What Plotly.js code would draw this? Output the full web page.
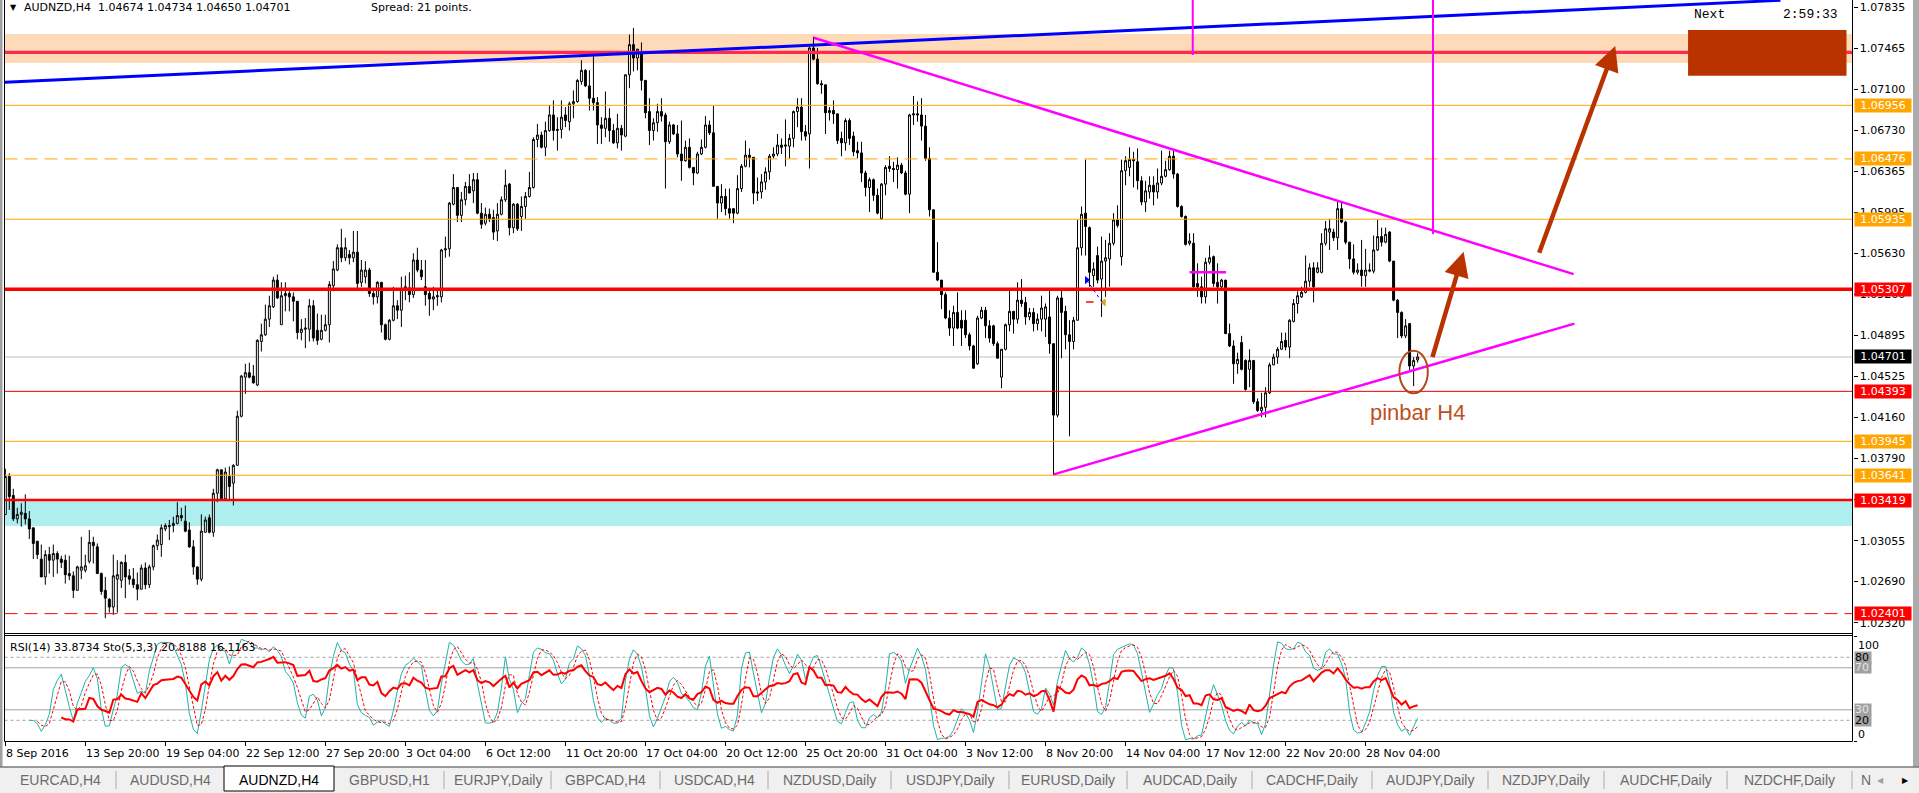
<!DOCTYPE html>
<html><head><meta charset="utf-8">
<script src="https://cdn.plot.ly/plotly-3.0.1.min.js"></script>
<style>html,body{margin:0;padding:0;background:#fff;overflow:hidden}#chart{width:1919px;height:793px}</style>
</head><body><div id="chart"></div>
<script>
// ---------------- DATA ----------------
const symbolName = "AUDNZD,H4";
const spreadPoints = 21;
const countdownText = "2:59:33";
const indicatorReadout = [33.8734, 20.8188, 16.1163];

const open = [
1.0329,1.0363,1.0346,1.0325,1.0329,1.0330,1.0325,1.0317,1.0305,1.0289,
1.0273,1.0293,1.0288,1.0294,1.0289,1.0288,1.0276,1.0274,1.0261,1.0279,
1.0279,1.0287,1.0304,1.0300,1.0276,1.0261,1.0253,1.0246,1.0271,1.0270,
1.0286,1.0274,1.0271,1.0266,1.0262,1.0281,1.0266,1.0282,1.0301,1.0302,
1.0316,1.0318,1.0319,1.0321,1.0328,1.0323,1.0315,1.0300,1.0282,1.0271,
1.0313,1.0326,1.0313,1.0348,1.0369,1.0343,1.0363,1.0357,1.0373,1.0417,
1.0452,1.0456,1.0453,1.0445,1.0484,1.0490,1.0504,1.0515,1.0539,1.0499,
1.0525,1.0527,1.0524,1.0520,1.0492,1.0495,1.0495,1.0516,1.0494,1.0486,
1.0494,1.0499,1.0534,1.0548,1.0568,1.0559,1.0562,1.0559,1.0564,1.0537,
1.0542,1.0548,1.0527,1.0524,1.0537,1.0499,1.0486,1.0503,1.0516,1.0512,
1.0531,1.0532,1.0526,1.0557,1.0548,1.0533,1.0527,1.0522,1.0524,1.0524,
1.0566,1.0567,1.0607,1.0622,1.0597,1.0611,1.0623,1.0619,1.0629,1.0599,
1.0590,1.0598,1.0595,1.0583,1.0598,1.0611,1.0625,1.0586,1.0607,1.0596,
1.0605,1.0614,1.0622,1.0665,1.0669,1.0658,1.0673,1.0687,1.0673,1.0674,
1.0687,1.0681,1.0697,1.0699,1.0717,1.0727,1.0713,1.0702,1.0698,1.0678,
1.0675,1.0684,1.0673,1.0662,1.0675,1.0668,1.0723,1.0750,1.0738,1.0742,
1.0718,1.0690,1.0673,1.0680,1.0690,1.0687,1.0663,1.0678,1.0670,1.0652,
1.0646,1.0658,1.0640,1.0635,1.0652,1.0658,1.0678,1.0671,1.0623,1.0608,
1.0614,1.0603,1.0603,1.0599,1.0621,1.0641,1.0651,1.0649,1.0618,1.0618,
1.0627,1.0636,1.0650,1.0652,1.0660,1.0659,1.0659,1.0666,1.0690,1.0694,
1.0672,1.0670,1.0747,1.0737,1.0715,1.0714,1.0689,1.0691,1.0688,1.0666,
1.0662,1.0682,1.0668,1.0655,1.0653,1.0635,1.0622,1.0629,1.0615,1.0594,
1.0625,1.0641,1.0639,1.0638,1.0642,1.0635,1.0616,1.0687,1.0688,1.0687,
1.0677,1.0648,1.0602,1.0546,1.0539,1.0526,1.0505,1.0496,1.0510,1.0503,
1.0503,1.0490,1.0480,1.0464,1.0505,1.0512,1.0498,1.0498,1.0482,1.0452,
1.0477,1.0499,1.0511,1.0504,1.0521,1.0519,1.0506,1.0510,1.0500,1.0504,
1.0504,1.0506,1.0482,1.0418,1.0523,1.0511,1.0490,1.0484,1.0503,1.0568,
1.0599,1.0586,1.0543,1.0561,1.0540,1.0556,1.0558,1.0572,1.0593,1.0560,
1.0637,1.0640,1.0647,1.0645,1.0628,1.0609,1.0618,1.0624,1.0618,1.0626,
1.0632,1.0638,1.0650,1.0634,1.0605,1.0596,1.0572,1.0572,1.0536,1.0533,
1.0524,1.0555,1.0560,1.0537,1.0533,1.0539,1.0491,1.0480,1.0464,1.0483,
1.0467,1.0459,1.0467,1.0430,1.0422,1.0425,1.0438,1.0463,1.0470,1.0477,
1.0485,1.0479,1.0502,1.0518,1.0524,1.0528,1.0538,1.0550,1.0546,1.0546,
1.0572,1.0582,1.0582,1.0577,1.0603,1.0591,1.0573,1.0558,1.0546,1.0548,
1.0543,1.0547,1.0547,1.0566,1.0578,1.0573,1.0582,1.0556,1.0521,1.0510,
1.0489,1.0500,1.0462,1.04674];

const high = [
1.0370,1.0366,1.0352,1.0335,1.0339,1.0347,1.0332,1.0317,1.0305,1.0302,
1.0297,1.0300,1.0302,1.0296,1.0292,1.0293,1.0292,1.0278,1.0283,1.0309,
1.0293,1.0315,1.0309,1.0303,1.0277,1.0273,1.0254,1.0293,1.0288,1.0287,
1.0293,1.0280,1.0281,1.0277,1.0284,1.0286,1.0284,1.0302,1.0311,1.0320,
1.0321,1.0324,1.0327,1.0340,1.0335,1.0337,1.0322,1.0306,1.0282,1.0329,
1.0327,1.0329,1.0352,1.0370,1.0369,1.0371,1.0372,1.0374,1.0422,1.0454,
1.0464,1.0465,1.0463,1.0486,1.0500,1.0517,1.0525,1.0542,1.0544,1.0537,
1.0537,1.0529,1.0528,1.0520,1.0504,1.0505,1.0522,1.0521,1.0509,1.0508,
1.0508,1.0538,1.0556,1.0571,1.0585,1.0577,1.0566,1.0583,1.0583,1.0557,
1.0556,1.0550,1.0530,1.0538,1.0537,1.0500,1.0504,1.0533,1.0521,1.0542,
1.0543,1.0546,1.0563,1.0568,1.0557,1.0557,1.0530,1.0533,1.0532,1.0567,
1.0578,1.0609,1.0634,1.0622,1.0618,1.0627,1.0634,1.0635,1.0635,1.0608,
1.0604,1.0603,1.0602,1.0608,1.0614,1.0638,1.0626,1.0608,1.0608,1.0614,
1.0618,1.0636,1.0667,1.0679,1.0672,1.0681,1.0696,1.0700,1.0685,1.0700,
1.0694,1.0699,1.0709,1.0719,1.0736,1.0728,1.0727,1.0742,1.0703,1.0685,
1.0708,1.0693,1.0679,1.0688,1.0678,1.0723,1.0759,1.0765,1.0746,1.0752,
1.0718,1.0702,1.0684,1.0697,1.0702,1.0689,1.0681,1.0679,1.0678,1.0682,
1.0664,1.0666,1.0640,1.0654,1.0665,1.0686,1.0682,1.0695,1.0623,1.0625,
1.0621,1.0621,1.0603,1.0633,1.0643,1.0664,1.0657,1.0649,1.0631,1.0634,
1.0640,1.0652,1.0658,1.0670,1.0666,1.0683,1.0670,1.0691,1.0702,1.0702,
1.0678,1.0748,1.0757,1.0747,1.0718,1.0714,1.0694,1.0700,1.0688,1.0672,
1.0684,1.0684,1.0672,1.0663,1.0663,1.0637,1.0631,1.0630,1.0621,1.0626,
1.0642,1.0650,1.0645,1.0649,1.0644,1.0637,1.0688,1.0704,1.0699,1.0702,
1.0687,1.0658,1.0602,1.0573,1.0539,1.0528,1.0512,1.0516,1.0528,1.0512,
1.0512,1.0492,1.0481,1.0507,1.0515,1.0515,1.0503,1.0499,1.0484,1.0477,
1.0500,1.0530,1.0511,1.0537,1.0540,1.0524,1.0514,1.0514,1.0509,1.0525,
1.0518,1.0530,1.0482,1.0525,1.0530,1.0516,1.0503,1.0506,1.0593,1.0605,
1.0647,1.0587,1.0555,1.0569,1.0578,1.0575,1.0581,1.0599,1.0606,1.0647,
1.0650,1.0658,1.0654,1.0657,1.0632,1.0628,1.0632,1.0632,1.0639,1.0655,
1.0646,1.0655,1.0656,1.0635,1.0606,1.0597,1.0581,1.0581,1.0554,1.0542,
1.0559,1.0570,1.0561,1.0554,1.0540,1.0539,1.0500,1.0485,1.0474,1.0489,
1.0468,1.0477,1.0467,1.0433,1.0438,1.0443,1.0465,1.0473,1.0479,1.0492,
1.0492,1.0504,1.0522,1.0529,1.0533,1.0561,1.0554,1.0555,1.0555,1.0581,
1.0592,1.0594,1.0585,1.0609,1.0609,1.0592,1.0573,1.0571,1.0554,1.0575,
1.0567,1.0554,1.0579,1.0593,1.0586,1.0586,1.0583,1.0556,1.0522,1.0511,
1.0504,1.0500,1.0470,1.04734];

const low = [
1.0329,1.0333,1.0323,1.0321,1.0318,1.0320,1.0307,1.0289,1.0289,1.0273,
1.0266,1.0276,1.0273,1.0276,1.0281,1.0267,1.0270,1.0254,1.0261,1.0271,
1.0277,1.0285,1.0285,1.0276,1.0257,1.0236,1.0241,1.0239,1.0241,1.0263,
1.0254,1.0266,1.0263,1.0252,1.0262,1.0262,1.0263,1.0279,1.0297,1.0291,
1.0314,1.0306,1.0313,1.0320,1.0323,1.0313,1.0299,1.0275,1.0266,1.0269,
1.0313,1.0312,1.0309,1.0340,1.0342,1.0342,1.0341,1.0337,1.0373,1.0416,
1.0437,1.0451,1.0446,1.0444,1.0475,1.0489,1.0497,1.0514,1.0522,1.0499,
1.0511,1.0511,1.0502,1.0486,1.0485,1.0478,1.0484,1.0484,1.0481,1.0485,
1.0493,1.0483,1.0529,1.0547,1.0555,1.0556,1.0553,1.0555,1.0531,1.0533,
1.0536,1.0524,1.0517,1.0518,1.0492,1.0485,1.0485,1.0502,1.0504,1.0497,
1.0521,1.0519,1.0523,1.0546,1.0539,1.0516,1.0507,1.0512,1.0516,1.0519,
1.0559,1.0560,1.0606,1.0591,1.0591,1.0606,1.0617,1.0608,1.0598,1.0585,
1.0588,1.0591,1.0575,1.0574,1.0597,1.0609,1.0579,1.0581,1.0583,1.0583,
1.0594,1.0613,1.0621,1.0658,1.0657,1.0650,1.0672,1.0664,1.0655,1.0666,
1.0676,1.0673,1.0684,1.0698,1.0714,1.0712,1.0691,1.0691,1.0661,1.0661,
1.0667,1.0663,1.0661,1.0657,1.0655,1.0667,1.0711,1.0726,1.0727,1.0709,
1.0684,1.0660,1.0664,1.0672,1.0681,1.0621,1.0661,1.0669,1.0649,1.0628,
1.0645,1.0639,1.0624,1.0634,1.0651,1.0657,1.0669,1.0623,1.0594,1.0600,
1.0597,1.0594,1.0590,1.0598,1.0618,1.0640,1.0640,1.0607,1.0610,1.0612,
1.0620,1.0629,1.0648,1.0650,1.0652,1.0641,1.0648,1.0658,1.0676,1.0664,
1.0664,1.0639,1.0736,1.0714,1.0706,1.0670,1.0682,1.0679,1.0661,1.0650,
1.0655,1.0660,1.0650,1.0648,1.0627,1.0614,1.0600,1.0610,1.0598,1.0593,
1.0615,1.0636,1.0627,1.0621,1.0634,1.0615,1.0599,1.0678,1.0681,1.0664,
1.0646,1.0596,1.0546,1.0538,1.0513,1.0504,1.0489,1.0480,1.0495,1.0480,
1.0487,1.0476,1.0460,1.0463,1.0504,1.0487,1.0483,1.0480,1.0469,1.0442,
1.0476,1.0493,1.0491,1.0500,1.0515,1.0499,1.0503,1.0493,1.0494,1.0493,
1.0488,1.0473,1.0364,1.0416,1.0469,1.0477,1.0399,1.0477,1.0503,1.0561,
1.0561,1.0533,1.0533,1.0536,1.0506,1.0524,1.0533,1.0570,1.0586,1.0552,
1.0624,1.0632,1.0622,1.0620,1.0606,1.0600,1.0612,1.0606,1.0612,1.0624,
1.0631,1.0637,1.0630,1.0604,1.0595,1.0570,1.0570,1.0532,1.0524,1.0518,
1.0518,1.0553,1.0533,1.0518,1.0531,1.0491,1.0479,1.0446,1.0455,1.0458,
1.0440,1.0443,1.0428,1.0421,1.0416,1.0416,1.0437,1.0463,1.0464,1.0477,
1.0476,1.0469,1.0501,1.0509,1.0523,1.0527,1.0533,1.0519,1.0545,1.0545,
1.0570,1.0566,1.0574,1.0566,1.0590,1.0571,1.0549,1.0544,1.0544,1.0533,
1.0533,1.0546,1.0545,1.0565,1.0569,1.0572,1.0555,1.0520,1.0487,1.0487,
1.0487,1.0458,1.0444,1.04650];

const close = [
1.0363,1.0345,1.0325,1.0329,1.0331,1.0325,1.0316,1.0303,1.0293,1.0273,
1.0293,1.0288,1.0294,1.0289,1.0286,1.0275,1.0274,1.0261,1.0282,1.0282,
1.0283,1.0304,1.0301,1.0276,1.0260,1.0254,1.0246,1.0274,1.0275,1.0286,
1.0273,1.0271,1.0266,1.0262,1.0281,1.0266,1.0282,1.0301,1.0306,1.0317,
1.0319,1.0319,1.0321,1.0328,1.0326,1.0314,1.0300,1.0282,1.0271,1.0314,
1.0324,1.0313,1.0348,1.0369,1.0343,1.0367,1.0354,1.0373,1.0417,1.0453,
1.0456,1.0452,1.0447,1.0485,1.0490,1.0504,1.0516,1.0539,1.0523,1.0525,
1.0527,1.0524,1.0520,1.0492,1.0495,1.0496,1.0516,1.0487,1.0485,1.0494,
1.0499,1.0535,1.0549,1.0568,1.0559,1.0568,1.0559,1.0564,1.0536,1.0548,
1.0548,1.0527,1.0524,1.0537,1.0499,1.0486,1.0503,1.0516,1.0512,1.0531,
1.0533,1.0526,1.0557,1.0548,1.0542,1.0526,1.0522,1.0524,1.0525,1.0566,
1.0567,1.0608,1.0622,1.0597,1.0611,1.0623,1.0617,1.0629,1.0599,1.0589,
1.0598,1.0594,1.0582,1.0598,1.0611,1.0624,1.0586,1.0607,1.0585,1.0605,
1.0614,1.0622,1.0665,1.0669,1.0658,1.0673,1.0687,1.0673,1.0674,1.0685,
1.0682,1.0697,1.0699,1.0718,1.0727,1.0713,1.0702,1.0698,1.0678,1.0675,
1.0684,1.0673,1.0662,1.0675,1.0669,1.0723,1.0750,1.0738,1.0746,1.0718,
1.0689,1.0673,1.0680,1.0690,1.0686,1.0663,1.0678,1.0670,1.0652,1.0646,
1.0658,1.0640,1.0635,1.0652,1.0658,1.0678,1.0671,1.0623,1.0608,1.0614,
1.0603,1.0599,1.0599,1.0621,1.0641,1.0651,1.0649,1.0617,1.0617,1.0627,
1.0636,1.0650,1.0652,1.0660,1.0658,1.0660,1.0666,1.0690,1.0694,1.0672,
1.0668,1.0747,1.0737,1.0715,1.0714,1.0689,1.0691,1.0688,1.0664,1.0662,
1.0682,1.0666,1.0654,1.0653,1.0635,1.0622,1.0629,1.0615,1.0599,1.0625,
1.0640,1.0639,1.0638,1.0642,1.0635,1.0616,1.0687,1.0688,1.0687,1.0677,
1.0648,1.0602,1.0546,1.0539,1.0526,1.0505,1.0496,1.0510,1.0496,1.0496,
1.0490,1.0480,1.0460,1.0505,1.0512,1.0498,1.0487,1.0482,1.0469,1.0477,
1.0499,1.0511,1.0504,1.0521,1.0518,1.0506,1.0510,1.0500,1.0504,1.0514,
1.0515,1.0482,1.0418,1.0523,1.0510,1.0490,1.0484,1.0503,1.0568,1.0598,
1.0587,1.0546,1.0549,1.0539,1.0556,1.0559,1.0572,1.0593,1.0588,1.0637,
1.0646,1.0647,1.0646,1.0628,1.0609,1.0619,1.0624,1.0618,1.0626,1.0632,
1.0638,1.0650,1.0634,1.0605,1.0596,1.0571,1.0574,1.0533,1.0533,1.0524,
1.0555,1.0559,1.0536,1.0533,1.0539,1.0491,1.0480,1.0464,1.0468,1.0459,
1.0441,1.0467,1.0430,1.0422,1.0425,1.0438,1.0463,1.0470,1.0477,1.0484,
1.0479,1.0503,1.0518,1.0525,1.0528,1.0538,1.0550,1.0533,1.0550,1.0572,
1.0585,1.0585,1.0577,1.0603,1.0591,1.0573,1.0558,1.0546,1.0548,1.0543,
1.0548,1.0548,1.0566,1.0578,1.0573,1.0580,1.0556,1.0521,1.0510,1.0489,
1.0498,1.0462,1.0467,1.04701];

const priceTicks = [1.07835,1.07465,1.07100,1.06730,1.06365,1.05995,1.05630,1.05260,1.04895,1.04525,1.04160,1.03790,1.03420,1.03055,1.02690,1.02320];
const levelPrices = [1.06956,1.06476,1.05935,1.05307,1.04701,1.04393,1.03945,1.03641,1.03419,1.02401];
const levelKinds  = ["orange","orangeDash","orange","redThick","bid","red","orange","orange","redMid","redDash"];
const resistancePrice = 1.0743;
const zonePrices = [[1.07335,1.07595],[1.03186,1.03419]];
const oscLevels = [80,70,30,20];
const oscAxisText = ["100","0"];

const dateTickIdx  = [0,20,40,60,80,100,120,140,160,180,200,220,240,260,280,300,320,340];
const dateTickText = ["8 Sep 2016","13 Sep 20:00","19 Sep 04:00","22 Sep 12:00","27 Sep 20:00","3 Oct 04:00","6 Oct 12:00","11 Oct 20:00","17 Oct 04:00","20 Oct 12:00","25 Oct 20:00","31 Oct 04:00","3 Nov 12:00","8 Nov 20:00","14 Nov 04:00","17 Nov 12:00","22 Nov 20:00","28 Nov 04:00"];

const tabNames = ["EURCAD,H4","AUDUSD,H4","AUDNZD,H4","GBPUSD,H1","EURJPY,Daily","GBPCAD,H4","USDCAD,H4","NZDUSD,Daily","USDJPY,Daily","EURUSD,Daily","AUDCAD,Daily","CADCHF,Daily","AUDJPY,Daily","NZDJPY,Daily","AUDCHF,Daily","NZDCHF,Daily"];
const activeTab = 2;

// drawn objects anchored in (bar index, price)
const trendLines = [
  {i0:-0.075, p0:1.07162, i1:443.7,  p1:1.07897, kind:"blue"},
  {i0:202.05, p0:1.07562, i1:392.0,  p1:1.05443, kind:"magenta"},
  {i0:262.05, p0:1.03649, i1:392.2,  p1:1.05000, kind:"magenta"},
  {i0:296.8,  p0:1.07900, i1:296.8,  p1:1.07407, kind:"magentaV"},
  {i0:356.85, p0:1.07900, i1:356.85, p1:1.05802, kind:"magentaV"},
  {i0:296.0,  p0:1.05461, i1:305.1,  p1:1.05461, kind:"magenta"}
];
const forecastArrows = [
  {i0:356.6,  p0:1.04686, i1:364.5, p1:1.05643},
  {i0:383.25, p0:1.05622, i1:402.4, p1:1.07488}
];
const targetBox = {i0:420.6, i1:460.2, p0:1.07221, p1:1.07631};
const pinbarMark = {i0:348.45, i1:355.55, p0:1.04375, p1:1.04757, label:"pinbar H4", li:352.9, lp:1.04205};
const tradeMarks = {buy:[270.3,1.0539], exit:[274.6,1.0519], sl:[270.1,272.0,1.05194]};

// ---------------- CHECK ----------------
if (!(open.length===high.length && high.length===low.length && low.length===close.length)) {
  throw new Error("length mismatch "+open.length+" "+high.length+" "+low.length+" "+close.length);
}

// ---------------- INDICATORS (from the OHLC above) ----------------
function rsi(c,n){
  const out=c.map(()=>null); let g=0,l=0;
  for(let i=1;i<=n;i++){const d=c[i]-c[i-1]; if(d>0) g+=d; else l-=d;}
  g/=n; l/=n; out[n]=l===0?100:100-100/(1+g/l);
  for(let i=n+1;i<c.length;i++){const d=c[i]-c[i-1];
    g=(g*(n-1)+Math.max(d,0))/n; l=(l*(n-1)+Math.max(-d,0))/n;
    out[i]=l===0?100:100-100/(1+g/l);}
  return out;
}
function stoch(h,l,c,kp,slow,dp){
  const N=c.length, hh=[], ll=[], K=c.map(()=>null), D=c.map(()=>null);
  for(let i=0;i<N;i++){ if(i>=kp-1){let a=-1e9,b=1e9; for(let j=i-kp+1;j<=i;j++){a=Math.max(a,h[j]);b=Math.min(b,l[j]);} hh[i]=a; ll[i]=b;} }
  for(let i=kp-1+slow-1;i<N;i++){let num=0,den=0; for(let j=i-slow+1;j<=i;j++){num+=c[j]-ll[j];den+=hh[j]-ll[j];} K[i]=den===0?100:100*num/den;}
  for(let i=0;i<N;i++){ if(i>=dp-1 && K[i-dp+1]!==null){let s=0; for(let j=i-dp+1;j<=i;j++) s+=K[j]; D[i]=s/dp;} }
  return [K,D];
}
const bars = close.map((_,i)=>i);
const rsiVals = rsi(close,14);
const [stK, stD] = stoch(high,low,close,5,3,3);

// ---------------- LAYOUT HELPERS ----------------
const W=1919, H=793;
const PX = x => x/W, PY = y => 1 - y/H;
const F = "DejaVu Sans";
const shapes=[], annotations=[];

const levelStyle = {
  orange:{c:"#FFA500",w:1,d:"solid",box:"#FFA500"},
  orangeDash:{c:"#FFA500",w:1,d:"13px,7px",box:"#FFA500"},
  redThick:{c:"#FF0000",w:3.5,d:"solid",box:"#FF0000"},
  bid:{c:"#C0C0C0",w:1,d:"solid",box:"#000000"},
  red:{c:"#EE0000",w:1,d:"solid",box:"#FF0000"},
  redMid:{c:"#FF0000",w:2.5,d:"solid",box:"#FF0000"},
  redDash:{c:"#FF0000",w:1,d:"13px,7px",box:"#FF0000"}
};

// zones (background)
zonePrices.forEach((z,k)=>shapes.push({type:"rect",xref:"x domain",yref:"y",x0:0,x1:1,y0:z[0],y1:z[1],
  fillcolor:k===0?"#FFDAB9":"#AFEEEE",line:{width:0},layer:"below"}));

// horizontal levels
shapes.push({type:"line",xref:"x domain",yref:"y",x0:0,x1:1,y0:resistancePrice,y1:resistancePrice,line:{color:"#FF2A4D",width:3.2},layer:"above"});
levelPrices.forEach((p,k)=>{const s=levelStyle[levelKinds[k]];
  shapes.push({type:"line",xref:"x domain",yref:"y",x0:0,x1:1,y0:p,y1:p,line:{color:s.c,width:s.w,dash:s.d},layer:s===levelStyle.bid?"below":"above"});
  annotations.push({xref:"paper",yref:"y",x:PX(1854),y:p,xanchor:"left",yanchor:"middle",text:p.toFixed(5),showarrow:false,
    bgcolor:s.box,font:{family:F,size:11,color:"#ffffff"},width:56,height:13,borderpad:0,align:"center"});
});

// trend lines
trendLines.forEach(t=>{
  const col = t.kind==="blue"?"#0000FF":"#FF00FF";
  const w = t.kind==="blue"?3:(t.kind==="magentaV"?2:2.5);
  shapes.push({type:"line",xref:"x",yref:"y",x0:t.i0,y0:t.p0,x1:t.i1,y1:t.p1,line:{color:col,width:w},layer:"above"});
});

// target box
shapes.push({type:"rect",xref:"x",yref:"y",x0:targetBox.i0,x1:targetBox.i1,y0:targetBox.p0,y1:targetBox.p1,fillcolor:"#B83300",line:{width:0},layer:"above"});
// pinbar ellipse
shapes.push({type:"circle",xref:"x",yref:"y",x0:pinbarMark.i0,x1:pinbarMark.i1,y0:pinbarMark.p0,y1:pinbarMark.p1,line:{color:"#B5471C",width:2},layer:"above"});
annotations.push({xref:"x",yref:"y",x:pinbarMark.li,y:pinbarMark.lp,text:pinbarMark.label,showarrow:false,xanchor:"center",yanchor:"middle",
  font:{family:"Liberation Sans",size:22,color:"#C0501E"}});
// trade marks
shapes.push({type:"line",xref:"x",yref:"y",x0:tradeMarks.buy[0],y0:tradeMarks.buy[1],x1:tradeMarks.exit[0]-0.4,y1:tradeMarks.exit[1],line:{color:"#0000FF",width:1,dash:"dot"},layer:"above"});
shapes.push({type:"line",xref:"x",yref:"y",x0:tradeMarks.sl[0],y0:tradeMarks.sl[2],x1:tradeMarks.sl[1],y1:tradeMarks.sl[2],line:{color:"#FF0000",width:1.5},layer:"above"});

// arrows
forecastArrows.forEach(a=>annotations.push({xref:"x",yref:"y",axref:"x",ayref:"y",x:a.i1,y:a.p1,ax:a.i0,ay:a.p0,text:"",
  showarrow:true,arrowhead:2,arrowsize:1.1,arrowwidth:4.5,arrowcolor:"#B83300",standoff:0,startstandoff:0}));

// oscillator levels
oscLevels.forEach(v=>{
  const dotted = (v===80||v===20);
  shapes.push({type:"line",xref:"x2 domain",yref:"y2",x0:0,x1:1,y0:v,y1:v,line:{color:"#A0A0A0",width:1,dash:dotted?"dot":"solid"},layer:"below"});
  annotations.push({xref:"paper",yref:"y2",x:PX(1854),y:v,xanchor:"left",yanchor:"middle",text:String(v),showarrow:false,
    bgcolor:"#A0A0A0",font:{family:F,size:11,color:dotted?"#000000":"#E6E6E6"},width:16,height:11,borderpad:0,align:"left"});
});
annotations.push({xref:"paper",yref:"paper",x:PX(1856),y:PY(645),xanchor:"left",yanchor:"middle",text:oscAxisText[0],showarrow:false,font:{family:F,size:11,color:"#000"}});
annotations.push({xref:"paper",yref:"paper",x:PX(1856),y:PY(734),xanchor:"left",yanchor:"middle",text:oscAxisText[1],showarrow:false,font:{family:F,size:11,color:"#000"}});

// frame lines
const frame=(x0,y0,x1,y1,c,w)=>shapes.push({type:"line",xref:"paper",yref:"paper",x0:PX(x0),y0:PY(y0),x1:PX(x1),y1:PY(y1),line:{color:c,width:w||1},layer:"above"});
shapes.push({type:"rect",xref:"paper",yref:"paper",x0:0,x1:PX(2.5),y0:PY(767),y1:1,fillcolor:"#A0A0A0",line:{width:0},layer:"above"});
frame(4.5,0,4.5,741.5,"#000");
frame(4.5,633.5,1852.5,633.5,"#000");
frame(4.5,635.5,1852.5,635.5,"#000");
frame(4.5,741.5,1852.5,741.5,"#000");
frame(1852.5,0,1852.5,741.5,"#000");
shapes.push({type:"rect",xref:"paper",yref:"paper",x0:PX(1913),x1:1,y0:PY(767),y1:1,fillcolor:"#ABABAB",line:{width:0},layer:"above"});

// header
const hdr = symbolName+"\u00A0\u00A0"+[open,high,low,close].map(a=>a[a.length-1].toFixed(5)).join(" ");
annotations.push({xref:"paper",yref:"paper",x:PX(8),y:PY(7),xanchor:"left",yanchor:"middle",text:"\u25BC",showarrow:false,font:{family:F,size:8,color:"#000"}});
annotations.push({xref:"paper",yref:"paper",x:PX(22),y:PY(7),xanchor:"left",yanchor:"middle",text:hdr,showarrow:false,font:{family:F,size:11,color:"#000"}});
annotations.push({xref:"paper",yref:"paper",x:PX(369),y:PY(7),xanchor:"left",yanchor:"middle",text:"Spread: "+spreadPoints+" points.",showarrow:false,font:{family:F,size:11,color:"#000"}});
annotations.push({xref:"paper",yref:"paper",x:PX(1692),y:PY(15),xanchor:"left",yanchor:"middle",text:"Next",showarrow:false,font:{family:"Liberation Mono",size:13,color:"#000"}});
annotations.push({xref:"paper",yref:"paper",x:PX(1781),y:PY(15),xanchor:"left",yanchor:"middle",text:countdownText,showarrow:false,font:{family:"Liberation Mono",size:13,color:"#000"}});
annotations.push({xref:"paper",yref:"paper",x:PX(8),y:PY(647),xanchor:"left",yanchor:"middle",
  text:"RSI(14) "+indicatorReadout[0].toFixed(4)+" Sto(5,3,3) "+indicatorReadout[1].toFixed(4)+" "+indicatorReadout[2].toFixed(4),showarrow:false,font:{family:F,size:11,color:"#000"}});

// dates
dateTickIdx.forEach((ix,k)=>annotations.push({xref:"x2",yref:"paper",x:ix,xshift:-1.5,y:PY(753),xanchor:"left",yanchor:"middle",
  text:dateTickText[k],showarrow:false,font:{family:F,size:11,color:"#000"}}));

// tab strip
shapes.push({type:"rect",xref:"paper",yref:"paper",x0:0,x1:1,y0:0,y1:PY(767),fillcolor:"#F0F0F0",line:{width:0},layer:"above"});
frame(0,767,1919,767,"#7A7A7A",1.5);
const tabW = 112, tabStart = 4;
const tabEdges = [4,116,224,334,444,551,660,768,891,1009,1127,1252,1372,1488,1604,1727,1852];
tabNames.forEach((t,k)=>{
  const x0=tabEdges[k], x1=tabEdges[k+1];
  if(k===activeTab){
    shapes.push({type:"rect",xref:"paper",yref:"paper",x0:PX(x0),x1:PX(x1),y0:PY(791),y1:PY(766),fillcolor:"#FFFFFF",line:{color:"#000",width:1},layer:"above"});
  } else if (k+1!==activeTab) {
    frame(x1,771,x1,789,"#A8A8A8");
  }
  annotations.push({xref:"paper",yref:"paper",x:PX((x0+x1)/2),y:PY(780),xanchor:"center",yanchor:"middle",text:t,showarrow:false,
    font:{family:"Liberation Sans",size:14,color:k===activeTab?"#000":"#6A6A6A"}});
});
annotations.push({xref:"paper",yref:"paper",x:PX(1859),y:PY(780),xanchor:"left",yanchor:"middle",text:"N",showarrow:false,font:{family:"Liberation Sans",size:14,color:"#6A6A6A"}});
annotations.push({xref:"paper",yref:"paper",x:PX(1880),y:PY(780),xanchor:"center",yanchor:"middle",text:"\u25C0",showarrow:false,font:{family:F,size:8,color:"#A0A0A0"}});
annotations.push({xref:"paper",yref:"paper",x:PX(1905),y:PY(780),xanchor:"center",yanchor:"middle",text:"\u25B6",showarrow:false,font:{family:F,size:8,color:"#000"}});

// ---------------- TRACES ----------------
const traces = [
  {type:"candlestick",x:bars,open,high,low,close,xaxis:"x",yaxis:"y",whiskerwidth:0,
   increasing:{line:{color:"#000",width:1},fillcolor:"#FFFFFF"},
   decreasing:{line:{color:"#000",width:1},fillcolor:"#000000"},hoverinfo:"skip"},
  {type:"scatter",mode:"markers",x:[tradeMarks.buy[0]],y:[tradeMarks.buy[1]],xaxis:"x",yaxis:"y",marker:{symbol:"triangle-right",size:7,color:"#0000FF"},hoverinfo:"skip"},
  {type:"scatter",mode:"markers",x:[tradeMarks.exit[0]],y:[tradeMarks.exit[1]],xaxis:"x",yaxis:"y",marker:{symbol:"triangle-left",size:7,color:"#DAA520"},hoverinfo:"skip"},
  {type:"scatter",mode:"lines",x:bars,y:stK,xaxis:"x2",yaxis:"y2",line:{color:"#20B2AA",width:1},hoverinfo:"skip"},
  {type:"scatter",mode:"lines",x:bars,y:stD,xaxis:"x2",yaxis:"y2",line:{color:"#FF0000",width:1,dash:"3px,2px"},hoverinfo:"skip"},
  {type:"scatter",mode:"lines",x:bars,y:rsiVals,xaxis:"x2",yaxis:"y2",line:{color:"#FF0000",width:2},hoverinfo:"skip"}
];

const xRange=[-0.2,461.7];
const layout = {
  width:W,height:H,margin:{l:0,r:0,t:0,b:0},paper_bgcolor:"#FFFFFF",plot_bgcolor:"#FFFFFF",
  showlegend:false,hovermode:false,dragmode:false,font:{family:F,size:11,color:"#000"},
  xaxis:{domain:[PX(4.5),PX(1852.5)],range:xRange,showgrid:false,zeroline:false,showticklabels:false,showline:false,ticks:"",rangeslider:{visible:false},fixedrange:true,anchor:"y"},
  yaxis:{domain:[PY(633.5),1],range:[1.02223,1.07900],side:"right",showgrid:false,zeroline:false,showline:false,
    tickvals:priceTicks,ticktext:priceTicks.map(v=>v.toFixed(5)),ticks:"outside",ticklen:4,tickcolor:"#000",tickwidth:1,
    tickfont:{family:F,size:11,color:"#000"},fixedrange:true,anchor:"x"},
  xaxis2:{domain:[PX(4.5),PX(1852.5)],range:xRange,showgrid:false,zeroline:false,showticklabels:false,showline:false,
    tickvals:dateTickIdx,ticks:"outside",ticklen:4,tickcolor:"#000",fixedrange:true,anchor:"y2"},
  yaxis2:{domain:[PY(741.3),PY(636.3)],range:[0,100],side:"right",showgrid:false,zeroline:false,showline:false,showticklabels:false,
    tickvals:[100,0],ticks:"outside",ticklen:3,tickcolor:"#000",fixedrange:true,anchor:"x2"},
  shapes, annotations
};
Plotly.newPlot("chart",traces,layout,{staticPlot:true,displayModeBar:false});
</script></body></html>
